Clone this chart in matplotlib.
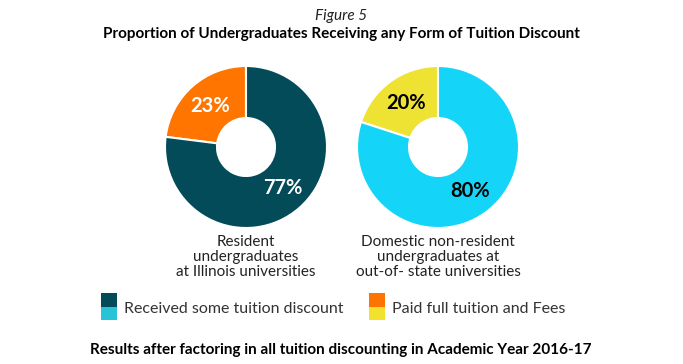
import math
import matplotlib.pyplot as plt
from matplotlib.patches import Rectangle

# data
groups = ['Resident\nundergraduates\nat Illinois universities',
          'Domestic non-resident\nundergraduates at\nout-of- state universities']
discounted = [77, 80]
full_paid = [23, 20]
legend_labels = ['Received some tuition discount', 'Paid full tuition and Fees']

disc_colors = ['#034b59', '#14d5f8']
full_colors = ['#ff7500', '#eee333']
label_colors = ['white', 'black']
legend_disc = ['#034b59', '#29c3d8']
legend_full = ['#ff7300', '#f2e22e']

W, H = 683, 364
plt.rcParams['font.family'] = ['Lato', 'DejaVu Sans']

fig = plt.figure(figsize=(W / 100, H / 100), dpi=100)
ax = fig.add_axes([0, 0, 1, 1])

centers_x = [246, 438]
cy = 147
radius = 81
width = 52

for i, cx in enumerate(centers_x):
    vals = [full_paid[i], discounted[i]]
    cols = [full_colors[i], disc_colors[i]]
    # y axis is inverted below, so this draws from 12 o'clock anticlockwise
    ax.pie(vals, colors=cols, startangle=-90, counterclock=False,
           center=(cx, cy), radius=radius,
           wedgeprops=dict(width=width, edgecolor='white', linewidth=1.5))

    # percentage labels in the middle of each ring segment
    ang = 90.0
    r = radius - width / 2
    for v in vals:
        mid = ang + v * 3.6 / 2
        ang += v * 3.6
        x = cx + r * math.cos(math.radians(mid))
        y = cy - r * math.sin(math.radians(mid))
        ax.text(x, y, f'{v}%', ha='center', va='center', fontsize=14.5,
                fontweight='bold', color=label_colors[i])

ax.set_xlim(0, W)
ax.set_ylim(H, 0)
ax.set_aspect('equal')
ax.axis('off')

for cx, g in zip(centers_x, groups):
    ax.text(cx, 257, g, ha='center', va='center', fontsize=11,
            color='#222222', linespacing=1.05)

# legend
def swatch(x, top, cols):
    ax.add_patch(Rectangle((x, top), 16, 14, color=cols[0], lw=0))
    ax.add_patch(Rectangle((x, top + 14), 16, 13, color=cols[1], lw=0))

swatch(101, 293, legend_disc)
swatch(369, 293, legend_full)
ax.text(124, 309, legend_labels[0], ha='left', va='center', fontsize=11.5, color='#333333')
ax.text(392, 309, legend_labels[1], ha='left', va='center', fontsize=11.5, color='#333333')

ax.text(341, 16, 'Figure 5', ha='center', va='center', fontsize=11,
        style='italic', color='#222222')
ax.text(341, 34, 'Proportion of Undergraduates Receiving any Form of Tuition Discount',
        ha='center', va='center', fontsize=11, fontweight='bold', color='black')
ax.text(341, 350, 'Results after factoring in all tuition discounting in Academic Year 2016-17',
        ha='center', va='center', fontsize=11, fontweight='bold', color='black')

fig.savefig('out.png', dpi=100)
